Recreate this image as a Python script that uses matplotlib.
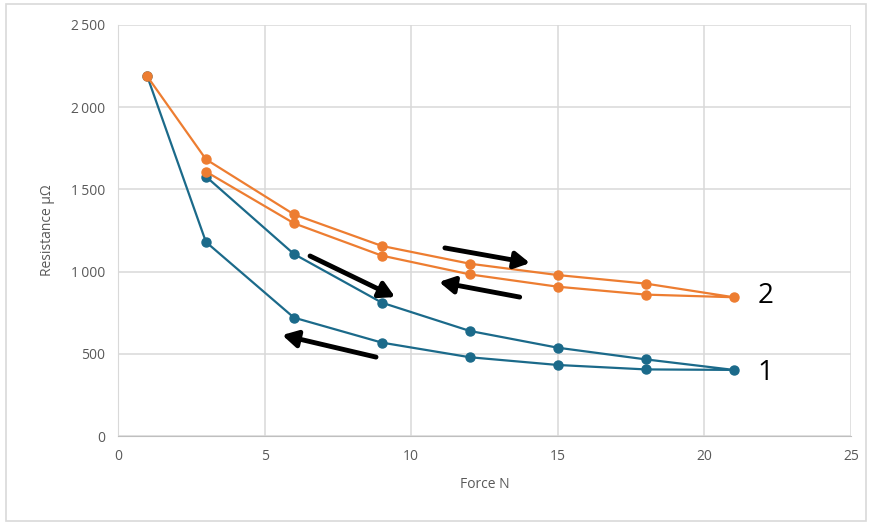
import matplotlib.pyplot as plt
from matplotlib.patches import Rectangle
from matplotlib.ticker import FuncFormatter

# Series 1 (blue): loading then unloading
force_1 = [3, 6, 9, 12, 15, 18, 21, 18, 15, 12, 9, 6, 3, 1]
res_1 = [1578, 1107, 811, 639, 537, 466, 402, 405, 432, 479, 568, 720, 1180, 2187]

# Series 2 (orange): loading then unloading
force_2 = [1, 3, 6, 9, 12, 15, 18, 21, 18, 15, 12, 9, 6, 3]
res_2 = [2187, 1683, 1348, 1156, 1048, 979, 927, 844, 860, 908, 983, 1097, 1294, 1608]

x_ticks = [0, 5, 10, 15, 20, 25]
y_ticks = [0, 500, 1000, 1500, 2000, 2500]

blue = "#1B6A8A"
orange = "#ED7D31"
grid_col = "#D9D9D9"
text_col = "#595959"

plt.rcParams['font.family'] = ['Open Sans', 'DejaVu Sans']

fig = plt.figure(figsize=(8.72, 5.23), dpi=100)
ax = fig.add_axes([118 / 872, 1 - 436 / 523, (851 - 118) / 872, (436 - 25) / 523])

ax.plot(force_1, res_1, color=blue, lw=1.6, marker='o', ms=6.5, zorder=3)
ax.plot(force_2, res_2, color=orange, lw=1.6, marker='o', ms=6.5, zorder=3)

ax.set_xlim(0, 25)
ax.set_ylim(0, 2500)
ax.set_xticks(x_ticks)
ax.set_yticks(y_ticks)
ax.yaxis.set_major_formatter(FuncFormatter(lambda v, p: f"{int(v):,}".replace(",", "\u2009")))
ax.grid(True, color=grid_col, lw=1.1)
ax.set_axisbelow(True)
for s in ['top', 'right']:
    ax.spines[s].set_visible(False)
ax.spines['left'].set_color(grid_col)
ax.spines['bottom'].set_color("#BFBFBF")
ax.tick_params(length=0, colors=text_col, labelsize=10, pad=9)

ax.set_xlabel("Force N", color=text_col, fontsize=10, labelpad=10)
ax.set_ylabel("Resistance μΩ", color=text_col, fontsize=10, labelpad=12)

# direction arrows
arrow_kw = dict(arrowstyle="-|>,head_length=0.9,head_width=0.5", color="black", lw=3.5,
                shrinkA=0, shrinkB=0)
ax.annotate("", xy=(9.45, 845), xytext=(6.55, 1095), arrowprops=arrow_kw)
ax.annotate("", xy=(5.6, 614), xytext=(8.8, 480), arrowprops=arrow_kw)
ax.annotate("", xy=(14.05, 1052), xytext=(11.15, 1144), arrowprops=arrow_kw)
ax.annotate("", xy=(10.95, 937), xytext=(13.7, 845), arrowprops=arrow_kw)

# series labels
ax.text(21.8, 850, "2", fontsize=20, va='center', ha='left', clip_on=False)
ax.text(21.8, 385, "1", fontsize=20, va='center', ha='left', clip_on=False)

# chart border
fig.patches.append(Rectangle((6 / 872, 2 / 523), 860 / 872, 517 / 523, transform=fig.transFigure,
                             fill=False, edgecolor=grid_col, lw=1.2))

fig.savefig("out.png", dpi=100)
